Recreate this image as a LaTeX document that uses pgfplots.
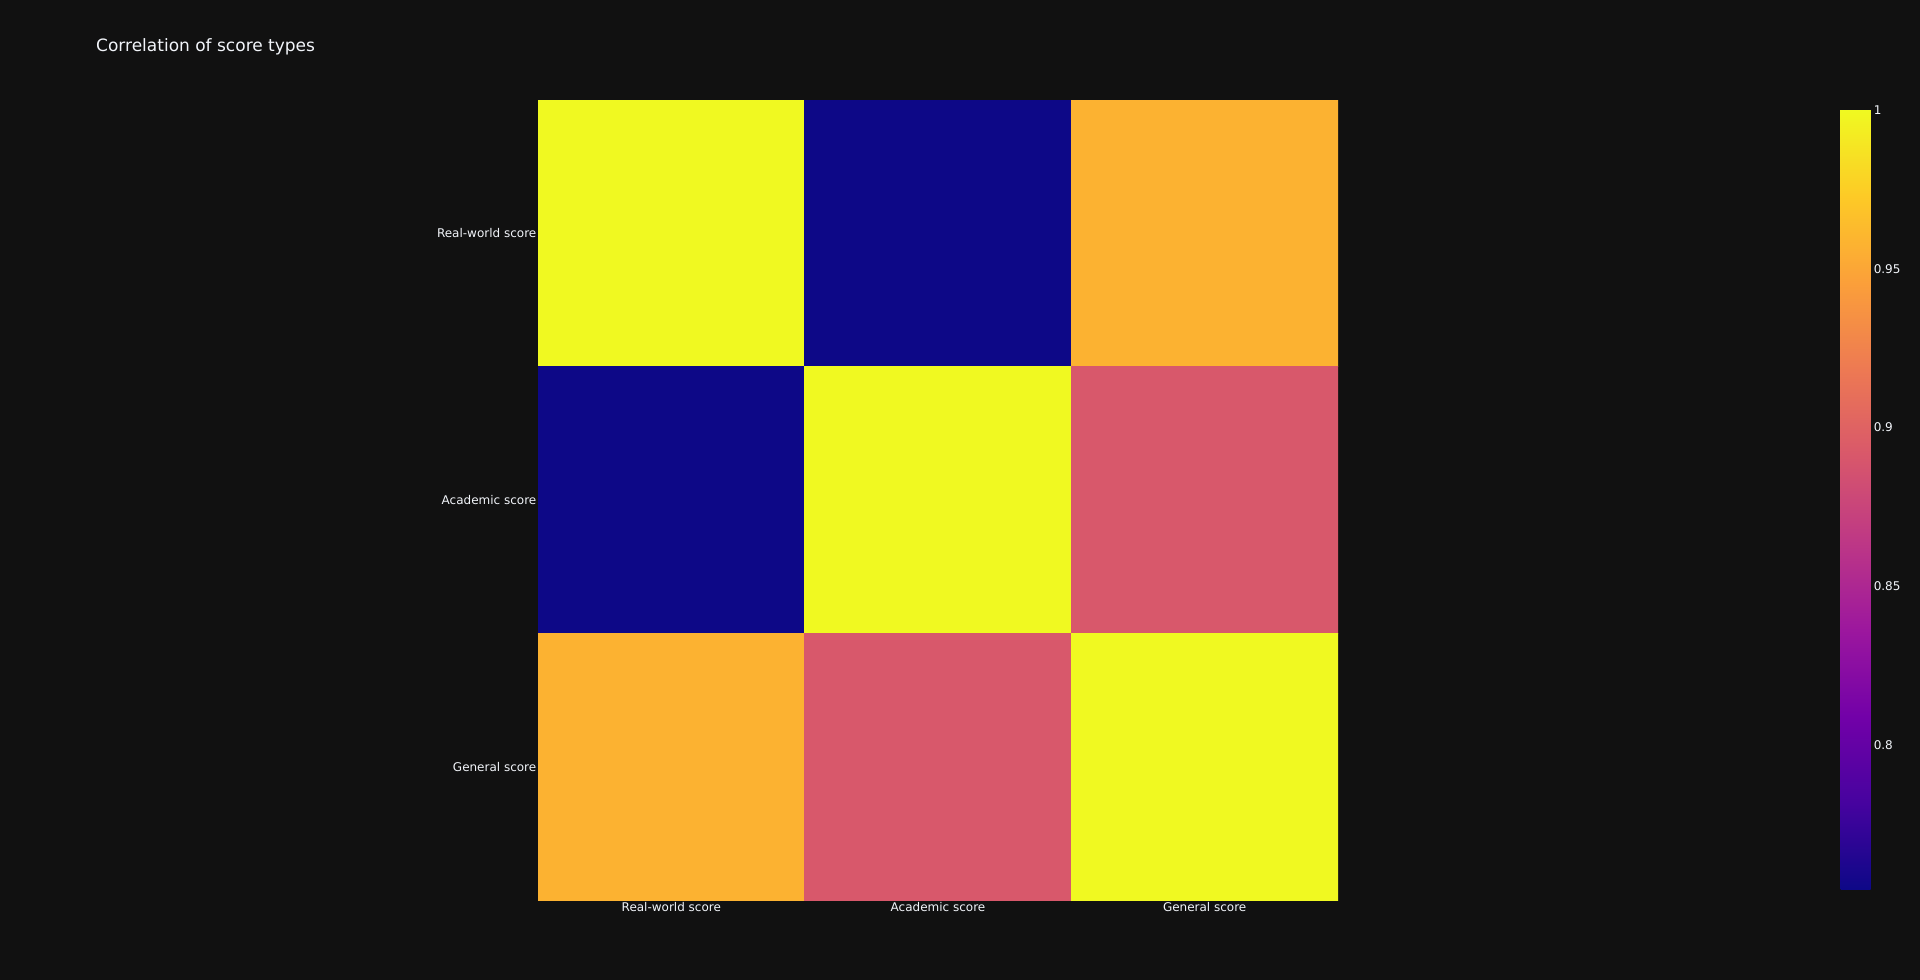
\documentclass[border=0pt]{standalone}
\usepackage{pgfplots}
\pgfplotsset{compat=1.18}
\usepackage{fontspec}
\setmainfont{DejaVu Sans}
\definecolor{bg}{HTML}{111111}
\definecolor{fg}{HTML}{F2F5FA}
\pgfplotsset{
  colormap={plasma}{rgb255=(13,8,135) rgb255=(70,3,159) rgb255=(114,1,168) rgb255=(156,23,158) rgb255=(189,55,134) rgb255=(216,87,107) rgb255=(237,121,83) rgb255=(251,159,58) rgb255=(253,202,38) rgb255=(240,249,33)}
}
\begin{document}
\begin{tikzpicture}[x=1pt,y=1pt]
\fill[bg] (0,0) rectangle (1920,980);
\useasboundingbox (0,0) rectangle (1920,980);
\node[anchor=west, text=fg, font=\fontsize{17}{20}\selectfont, inner sep=0pt] at (96,933.5) {Correlation of score types};
\begin{axis}[
  at={(538pt,80pt)}, anchor=south west,
  scale only axis, width=800pt, height=800pt,
  xmin=-0.5, xmax=2.5, ymin=-0.5, ymax=2.5,
  y dir=reverse,
  axis line style={draw=none},
  xtick={0,1,2}, ytick={0,1,2},
  xticklabels={Real-world score, Academic score, General score},
  yticklabels={Real-world score, Academic score, General score},
  major tick length=0pt,
  tick style={draw=none},
  xticklabel style={text=fg, font=\fontsize{12}{14}\selectfont, anchor=north, inner sep=0pt, yshift=-2pt},
  yticklabel style={text=fg, font=\fontsize{12}{14}\selectfont, anchor=east, inner sep=0pt, xshift=-1.5pt},
  colormap name=plasma,
  point meta min=0.7544, point meta max=1,
  colorbar,
  colorbar/width=30pt,
  colorbar style={
    at={(1832pt,870pt)}, anchor=north west,
    scale only axis, width=30pt, height=780pt,
    axis line style={draw=none},
    major tick length=0pt, tick style={draw=none},
    ytick={0.8,0.85,0.9,0.95,1},
    yticklabels={0.8,0.85,0.9,0.95,1},
    yticklabel pos=right,
    yticklabel style={text=fg, font=\fontsize{12}{14}\selectfont, anchor=west, inner sep=0pt, xshift=3pt},
  },
]
\addplot[matrix plot*, mesh/cols=3, point meta=explicit] table[meta=c] {
x y c
0 0 1
1 0 0.7544
2 0 0.9575
0 1 0.7544
1 1 1
2 1 0.8913
0 2 0.9575
1 2 0.8913
2 2 1
};
\end{axis}
\end{tikzpicture}
\end{document}
